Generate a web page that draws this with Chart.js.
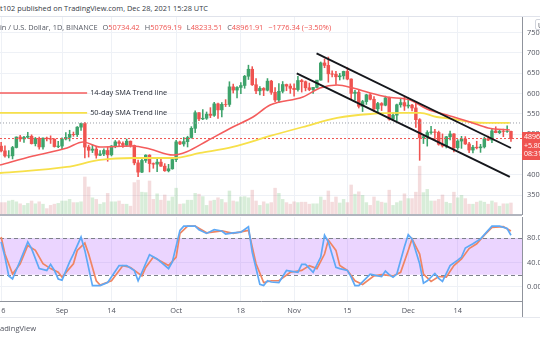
<!DOCTYPE html>
<html>
<head>
<meta charset="utf-8">
<script src="https://cdn.jsdelivr.net/npm/chart.js@4.4.0/dist/chart.umd.min.js"></script>
<style>
  html, body { margin: 0; padding: 0; background: #fff; }
  body { width: 540px; height: 340px; position: relative; overflow: hidden;
         font-family: "Open Sans", "Liberation Sans", sans-serif; }
  .abs { position: absolute; white-space: nowrap; }
  canvas { position: absolute; left: 0; }
  #pc { top: 17px; }
  #sc { top: 216px; }
  #head { left: 0; top: 3px; font-size: 7.4px; line-height: 10px; color: #363a45; }
  #legend { left: 0; top: 22px; font-size: 7.4px; line-height: 10px; color: #555963; }
  #legend .v { color: #ef5350; }
  #legend .sp { margin-left: 5px; }
  #foot { left: 0; top: 323px; font-size: 7.6px; line-height: 10px; color: #50535e; }
  #topline { left: 0; top: 16px; width: 540px; height: 1px; background: #e0e3eb; }
  #sep { left: 0; top: 214px; width: 522px; height: 2px; background: #b2b5be; }
  #timeaxis { left: 522px; top: 300px; width: 1px; height: 18px; background: #8f939c; }
  #botline { left: 0; top: 317px; width: 540px; height: 1px; background: #e6e8ee; }
  #lastbox { left: 522px; top: 132px; width: 24px; height: 28px; background: #ef5350;
             color: #fff; font-size: 7px; line-height: 8.6px; padding: 1px 0 0 2px; box-sizing: border-box; }
  #ubtn { left: 535px; top: 19px; width: 11px; height: 11px; border: 1px solid #d1d4dc;
          border-radius: 2px; font-size: 7px; line-height: 11px; color: #50535e; padding-left: 2px; box-sizing: border-box; background: #fff; }
</style>
</head>
<body>
<div id="head" class="abs">t102 published on TradingView.com, Dec 28, 2021 15:28 UTC</div>
<div id="topline" class="abs"></div>
<canvas id="pc" width="540" height="198"></canvas>
<canvas id="sc" width="540" height="104"></canvas>
<div id="legend" class="abs"></div>
<div id="sep" class="abs"></div>
<div id="timeaxis" class="abs"></div>
<div id="botline" class="abs"></div>
<div id="lastbox" class="abs"></div>
<div id="ubtn" class="abs">U</div>
<div id="foot" class="abs">adingView</div>

<script>
// daily candles, index 0 = Aug 15 2021 ... 135 = Dec 28 2021
const openP = [
  47020, 47090, 45930, 44690, 44710, 46760, 49330, 48870, 49290, 49530,
  47710, 48960, 46900, 49070, 48900, 48810, 46990, 47110, 48850, 49250,
  49990, 49920, 51760, 52660, 46860, 46080, 46370, 44850, 45170, 46030,
  44960, 47130, 48140, 47760, 47300, 48310, 47260, 42980, 40700, 43580,
  44880, 42810, 42670, 43160, 42170, 41030, 41520, 43790, 48140, 47630,
  48200, 49220, 51470, 55320, 53790, 53950, 54950, 54660, 57490, 56010,
  57370, 57350, 61670, 60880, 61530, 62010, 64280, 66000, 62190, 60690,
  61290, 60850, 63080, 60330, 58450, 60590, 62250, 61860, 61320, 61000,
  63230, 62940, 61440, 61010, 61530, 63330, 67550, 66950, 64880, 64780,
  64150, 64380, 65470, 63600, 60060, 60360, 56890, 58050, 59710, 58620,
  56250, 57570, 57160, 58960, 53730, 54720, 57270, 57800, 56950, 57180,
  56480, 53600, 49150, 49400, 50440, 50590, 50470, 47550, 47140, 49390,
  50100, 46700, 48340, 48870, 47630, 46130, 46830, 46680, 46910, 48900,
  48590, 50840, 50410, 50780, 50710, 50734.42
];
const highP = [
  47370, 48050, 47160, 46000, 47050, 49380, 49760, 49500, 50500, 49870,
  49230, 49340, 49150, 49300, 49630, 48900, 48250, 49130, 50400, 51000,
  50560, 51900, 52780, 52920, 47340, 47400, 47030, 45990, 46460, 46880,
  47250, 48490, 48490, 48160, 48830, 48370, 47360, 43640, 44000, 44980,
  45000, 42970, 43930, 44350, 42790, 42620, 44130, 48500, 48360, 49230,
  49530, 51890, 55750, 55330, 56100, 55490, 56560, 57840, 57680, 57800,
  58530, 62930, 62350, 61720, 62700, 64490, 67000, 66640, 63730, 61750,
  61490, 63710, 63290, 61500, 62500, 62980, 62360, 62400, 62430, 64270,
  63500, 63120, 62600, 61570, 63290, 67790, 68530, 69000, 65600, 65500,
  64990, 65550, 66400, 63620, 60800, 60950, 58370, 59850, 60050, 59290,
  57880, 57800, 59400, 59180, 55280, 57440, 58870, 59180, 59040, 57390,
  57600, 53860, 49700, 50890, 51940, 51200, 50800, 50100, 49490, 50800,
  50200, 48700, 49500, 49440, 48000, 47320, 48300, 47540, 49330, 49580,
  51380, 51860, 51160, 51280, 52090, 50769.19
];
const lowP = [
  45520, 45680, 44380, 44200, 43950, 46640, 48270, 48000, 49030, 47600,
  47140, 46320, 46360, 48370, 47760, 46850, 46700, 46500, 48600, 48350,
  49500, 49450, 50970, 44200, 44410, 45510, 44130, 44740, 44740, 43370,
  44680, 46690, 47050, 46760, 47050, 46850, 42500, 39600, 40550, 43090,
  40750, 41650, 40800, 42100, 40900, 40750, 41410, 43290, 47430, 47090,
  46890, 49050, 50380, 53360, 53620, 53660, 54100, 54420, 53880, 54300,
  56820, 56850, 60150, 58960, 60000, 61320, 63480, 62000, 60000, 59700,
  59510, 60660, 59820, 58000, 57820, 60170, 60720, 60070, 59400, 60620,
  60380, 60680, 60720, 60050, 61380, 63300, 66380, 62820, 64100, 62280,
  63360, 63580, 63400, 58600, 58370, 56470, 55600, 57350, 58480, 55610,
  55320, 55840, 57000, 53500, 53610, 53330, 56670, 55880, 56460, 55780,
  51680, 43600, 47730, 47100, 50040, 48600, 47320, 46850, 46640, 48640,
  45670, 46290, 46550, 47510, 45500, 45450, 46400, 45560, 46630, 48420,
  47920, 50360, 50170, 49420, 50450, 48233.51
];
const closeP = [
  47090, 45930, 44690, 44710, 46760, 49330, 48870, 49290, 49530, 47710,
  48960, 46900, 49070, 48900, 48810, 46990, 47110, 48850, 49250, 49990,
  49920, 51760, 52660, 46860, 46080, 46370, 44850, 45170, 46030, 44960,
  47130, 48140, 47760, 47300, 48310, 47260, 42980, 40700, 43580, 44880,
  42810, 42670, 43160, 42170, 41030, 41520, 43790, 48140, 47630, 48200,
  49220, 51470, 55320, 53790, 53950, 54950, 54660, 57490, 56010, 57370,
  57350, 61670, 60880, 61530, 62010, 64280, 66000, 62190, 60690, 61290,
  60850, 63080, 60330, 58450, 60590, 62250, 61860, 61320, 61000, 63230,
  62940, 61440, 61010, 61530, 63330, 67550, 66950, 64880, 64780, 64150,
  64380, 65470, 63600, 60060, 60360, 56890, 58050, 59710, 58620, 56250,
  57570, 57160, 58960, 53730, 54720, 57270, 57800, 56950, 57180, 56480,
  53600, 49150, 49400, 50440, 50590, 50470, 47550, 47140, 49390, 50100,
  46700, 48340, 48870, 47630, 46130, 46830, 46680, 46910, 48900, 48590,
  50840, 50410, 50780, 50710, 50738.25, 48961.91
];
// volume, thousand BTC
const volumeK = [
  31, 31, 31, 35, 37, 33, 28, 24, 29, 35,
  28, 33, 27, 16, 24, 27, 29, 35, 35, 39,
  31, 31, 33, 95, 70, 43, 39, 27, 31, 54,
  33, 33, 35, 27, 27, 22, 81, 87, 57, 56,
  85, 39, 53, 37, 50, 35, 45, 67, 27, 28,
  37, 37, 54, 52, 46, 24, 35, 37, 43, 39,
  31, 60, 35, 33, 45, 46, 43, 62, 35, 24,
  33, 28, 31, 67, 54, 39, 31, 27, 33, 31,
  32, 32, 27, 28, 28, 45, 37, 60, 32, 45,
  30, 39, 31, 75, 52, 58, 49, 31, 24, 45,
  35, 32, 30, 62, 24, 31, 35, 53, 41, 41,
  57, 122, 56, 64, 35, 35, 39, 50, 32, 29,
  57, 43, 49, 41, 27, 27, 32, 35, 32, 27,
  35, 31, 22, 28, 28, 30
];

// moving averages (day index, price)
const sma14Days = [0.7, 9.4, 18.3, 22.5, 27, 35.7, 40.1, 46.2, 49.8, 55.1, 61.9, 67.2, 71.7,
                   80.3, 84.8, 89.3, 93.5, 98, 102.4, 108.5, 112.9, 119, 124.2, 129, 134.7];
const sma14Values = [42460, 44670, 46640, 48110, 46890, 47130, 46390, 44920, 45730, 48360, 51800, 54260, 57210,
                     59180, 61390, 62130, 61390, 60160, 59180, 58440, 56230, 54500, 53030, 51560, 51060];
const sma50Days = [0.7, 18.3, 27, 35.7, 46.2, 53.3, 61.9, 71.7, 80.3, 89.3, 98, 106.6, 111.1,
                   115.5, 119.7, 124.2, 128.7, 134.7];
const sma50Values = [40490, 41970, 43690, 44180, 44180, 45410, 46890, 49590, 51800, 54020, 55000, 55250, 55250,
                     54260, 53770, 53030, 52790, 52790];

// stochastic %K / %D
const kDays = [1, 2, 3, 4, 6, 8, 9, 11, 13, 14, 15, 16, 17, 19, 20, 22, 23, 25, 27, 29,
  32, 34, 36, 37, 38, 40, 42, 45, 46, 48, 49, 52, 53, 55, 57, 59, 60, 62, 64, 66,
  67, 69, 70, 71, 72, 74, 76, 77, 79, 80, 81, 83, 85, 86, 87, 89, 90, 92, 93, 94,
  95, 98, 100, 101, 102, 103, 104, 105, 107, 108, 109, 111, 112, 113, 115, 116, 117, 119, 121, 122,
  123, 125, 127, 129, 130, 132, 134, 135];
const kValues = [74, 49, 18, 13, 43, 74, 63, 30, 27, 37, 27, 13, 11, 41, 54, 82, 60, 2, 2, 7,
  35, 35, 27, 10, 24, 53, 46, 30, 41, 93, 100, 100, 94, 88, 94, 92, 87, 89, 90, 99,
  57, 4, 2, 10, 8, 7, 27, 26, 24, 37, 37, 24, 49, 85, 74, 32, 30, 27, 16, 2,
  2, 21, 18, 17, 26, 20, 16, 21, 66, 86, 79, 38, 6, 10, 22, 14, 9, 35, 44, 49,
  64, 71, 79, 93, 100, 100, 96, 85];
const dDays = [1, 2, 4, 6, 8, 10, 12, 14, 16, 17, 20, 21, 23, 24, 26, 27, 30, 33, 35, 38,
  39, 41, 45, 47, 48, 50, 52, 55, 59, 62, 66, 68, 70, 72, 74, 77, 80, 82, 84, 86,
  87, 89, 90, 92, 94, 96, 99, 101, 104, 106, 108, 109, 111, 112, 114, 116, 118, 120, 122, 124,
  126, 128, 130, 133, 135];
const dValues = [82, 54, 21, 38, 68, 60, 38, 30, 24, 16, 38, 60, 72, 54, 10, 3, 10, 35, 32, 18,
  32, 49, 35, 49, 88, 100, 100, 89, 92, 88, 93, 38, 7, 10, 10, 24, 27, 35, 30, 54,
  77, 60, 35, 27, 10, 4, 18, 20, 18, 24, 60, 79, 54, 21, 9, 17, 16, 35, 46, 63,
  71, 85, 98, 99, 92];

// descending channel drawn on the chart
const channelUpper = [[83.9, 69930], [135, 46640]];
const channelLower = [[78.7, 65010], [134.7, 39510]];
const noteLabels = ['14-day SMA Trend line', '50-day SMA Trend line'];
const notePrices = [60160, 55250];
const noteEndDay = 23.6;

const tickDays = [1, 17, 30, 47, 64, 78, 92, 108, 121];
const tickLabels = ['16', 'Sep', '14', 'Oct', '18', 'Nov', '15', 'Dec', '14'];
const priceTicks = [35000, 40000, 45000, 50000, 55000, 60000, 65000, 70000, 75000];
const stochTicks = [0, 40, 80];

// ── styling ───────────────────────────────────────────
const UP = '#3ea36b', DOWN = '#ef5350';
const GRID = '#eef1f6', AXIS = '#8f939c', TXT = '#50535e';
const X_MIN = 0.7, X_MAX = 137.9;
const FONT = '"Open Sans", "Liberation Sans", sans-serif';
Chart.defaults.font.family = FONT;
Chart.defaults.font.size = 7.4;
Chart.defaults.color = TXT;

const last = closeP.length - 1;
const change = closeP[last] - closeP[last - 1];
const fmt = v => v.toFixed(2);
const sign = v => (v < 0 ? '−' + fmt(-v) : fmt(v));
document.getElementById('legend').innerHTML =
  'in / U.S. Dollar, 1D, BINANCE' +
  '<span class="sp">O<span class="v">' + fmt(openP[last]) + '</span></span>' +
  '<span class="sp">H<span class="v">' + fmt(highP[last]) + '</span></span>' +
  '<span class="sp">L<span class="v">' + fmt(lowP[last]) + '</span></span>' +
  '<span class="sp">C<span class="v">' + fmt(closeP[last]) + '</span></span>' +
  '<span class="sp v">' + sign(change) + ' (' + sign(change / closeP[last - 1] * 100) + '%)</span>';
document.getElementById('lastbox').innerHTML = fmt(closeP[last]) + '<br>+5.80<br>08:31:24';

const idx = closeP.map((_, i) => i);
const candleColor = idx.map(i => (closeP[i] >= openP[i] ? UP : DOWN));
const volColor = idx.map(i => (closeP[i] >= openP[i] ? 'rgba(76,175,80,0.22)' : 'rgba(205,95,100,0.22)'));
const pts = (days, vals) => days.map((d, i) => ({ x: d, y: vals[i] }));
const seg = p => p.map(([x, y]) => ({ x, y }));
const flat = y => [{ x: X_MIN, y }, { x: X_MAX, y }];

const xGrid = {
  type: 'linear', min: X_MIN, max: X_MAX, offset: false,
  grid: { color: GRID, drawTicks: false, offset: false },
  afterBuildTicks: s => { s.ticks = tickDays.map(v => ({ value: v })); },
};

const lineDs = (data, color, width, order, extra = {}) => Object.assign({
  type: 'line', data, borderColor: color, borderWidth: width, pointRadius: 0,
  fill: false, order, yAxisID: 'y'
}, extra);

const noteText = {
  id: 'noteText',
  afterDatasetsDraw(chart) {
    const { ctx, scales: { x, y } } = chart;
    ctx.save();
    ctx.font = '7.4px ' + FONT;
    ctx.fillStyle = '#2a2e39';
    ctx.textBaseline = 'middle';
    noteLabels.forEach((t, k) => ctx.fillText(t, x.getPixelForValue(noteEndDay) + 3, y.getPixelForValue(notePrices[k])));
    ctx.restore();
  }
};

new Chart(document.getElementById('pc'), {
  type: 'bar',
  data: {
    datasets: [
      { type: 'bar', yAxisID: 'vol', data: idx.map(i => ({ x: i, y: volumeK[i] })),
        backgroundColor: volColor, barThickness: 2.8, grouped: false, order: 9 },
      { type: 'bar', yAxisID: 'y', data: idx.map(i => ({ x: i, y: [lowP[i], highP[i]] })),
        backgroundColor: candleColor, barThickness: 0.9, grouped: false, order: 8 },
      { type: 'bar', yAxisID: 'y', data: idx.map(i => ({ x: i, y: [openP[i], closeP[i]] })),
        backgroundColor: candleColor, barThickness: 2.8, grouped: false, order: 7 },
      lineDs(flat(sma50Values[sma50Values.length - 1]), '#9a9da6', 1, 6, { borderDash: [1, 2] }),
      lineDs(flat(closeP[last]), DOWN, 1, 6, { borderDash: [2, 2] }),
      lineDs(pts(sma50Days, sma50Values), '#f7e04a', 1.8, 5, { cubicInterpolationMode: 'monotone' }),
      lineDs(pts(sma14Days, sma14Values), '#f45c5c', 1.6, 4, { cubicInterpolationMode: 'monotone' }),
      lineDs(flat(notePrices[0]).map((p, k) => ({ x: k ? noteEndDay : X_MIN, y: p.y })), '#f45c5c', 1.6, 3),
      lineDs(flat(notePrices[1]).map((p, k) => ({ x: k ? noteEndDay : X_MIN, y: p.y })), '#f7e04a', 1.8, 3),
      lineDs(seg(channelUpper), '#15171c', 1.9, 2),
      lineDs(seg(channelLower), '#15171c', 1.9, 2),
    ]
  },
  options: {
    responsive: false, animation: false, devicePixelRatio: 1,
    layout: { padding: 0 },
    plugins: { legend: { display: false }, tooltip: { enabled: false } },
    scales: {
      x: Object.assign({}, xGrid, {
        ticks: { display: false }, border: { display: false },
        afterFit: s => { s.height = 0; s.paddingLeft = 0; s.paddingRight = 0; }
      }),
      y: {
        position: 'right', min: 30160, max: 78850,
        grid: { color: GRID, drawTicks: false },
        border: { display: true, color: AXIS },
        ticks: { padding: 5, callback: v => String(v), color: TXT },
        afterBuildTicks: s => { s.ticks = priceTicks.map(v => ({ value: v })); },
        afterFit: s => { s.width = 18; s.paddingTop = 0; s.paddingBottom = 0; }
      },
      vol: { display: false, min: 0, max: 495 }
    }
  },
  plugins: [noteText]
});

const stochBand = {
  id: 'stochBand',
  beforeDatasetsDraw(chart) {
    const { ctx, chartArea: a, scales: { y } } = chart;
    const top = y.getPixelForValue(80), bot = y.getPixelForValue(20);
    ctx.save();
    ctx.fillStyle = 'rgba(170, 80, 255, 0.24)';
    ctx.fillRect(a.left, top, a.right - a.left, bot - top);
    ctx.strokeStyle = '#7d808a';
    ctx.lineWidth = 1;
    ctx.setLineDash([4, 3]);
    [top, bot].forEach(v => {
      ctx.beginPath();
      ctx.moveTo(a.left, Math.round(v) + 0.5);
      ctx.lineTo(a.right, Math.round(v) + 0.5);
      ctx.stroke();
    });
    ctx.restore();
  }
};

new Chart(document.getElementById('sc'), {
  type: 'line',
  data: {
    datasets: [
      { data: pts(dDays, dValues), borderColor: '#f08562', borderWidth: 1.7, pointRadius: 0, order: 2 },
      { data: pts(kDays, kValues), borderColor: '#5ea9f6', borderWidth: 1.7, pointRadius: 0, order: 1 },
    ]
  },
  options: {
    responsive: false, animation: false, devicePixelRatio: 1,
    layout: { padding: { top: 1 } },
    plugins: { legend: { display: false }, tooltip: { enabled: false } },
    scales: {
      x: Object.assign({}, xGrid, {
        border: { display: true, color: AXIS },
        ticks: { padding: 5, autoSkip: false, maxRotation: 0, color: TXT,
                 callback: v => tickLabels[tickDays.indexOf(v)] ?? '' },
        afterFit: s => { s.height = 19; s.paddingLeft = 0; s.paddingRight = 0; }
      }),
      y: {
        position: 'right', min: -23.3, max: 115,
        grid: { color: GRID, drawTicks: false },
        border: { display: true, color: AXIS },
        ticks: { padding: 5, callback: v => v.toFixed(2), color: TXT },
        afterBuildTicks: s => { s.ticks = stochTicks.map(v => ({ value: v })); },
        afterFit: s => { s.width = 18; s.paddingTop = 0; s.paddingBottom = 0; }
      }
    }
  },
  plugins: [stochBand]
});
</script>
</body>
</html>
